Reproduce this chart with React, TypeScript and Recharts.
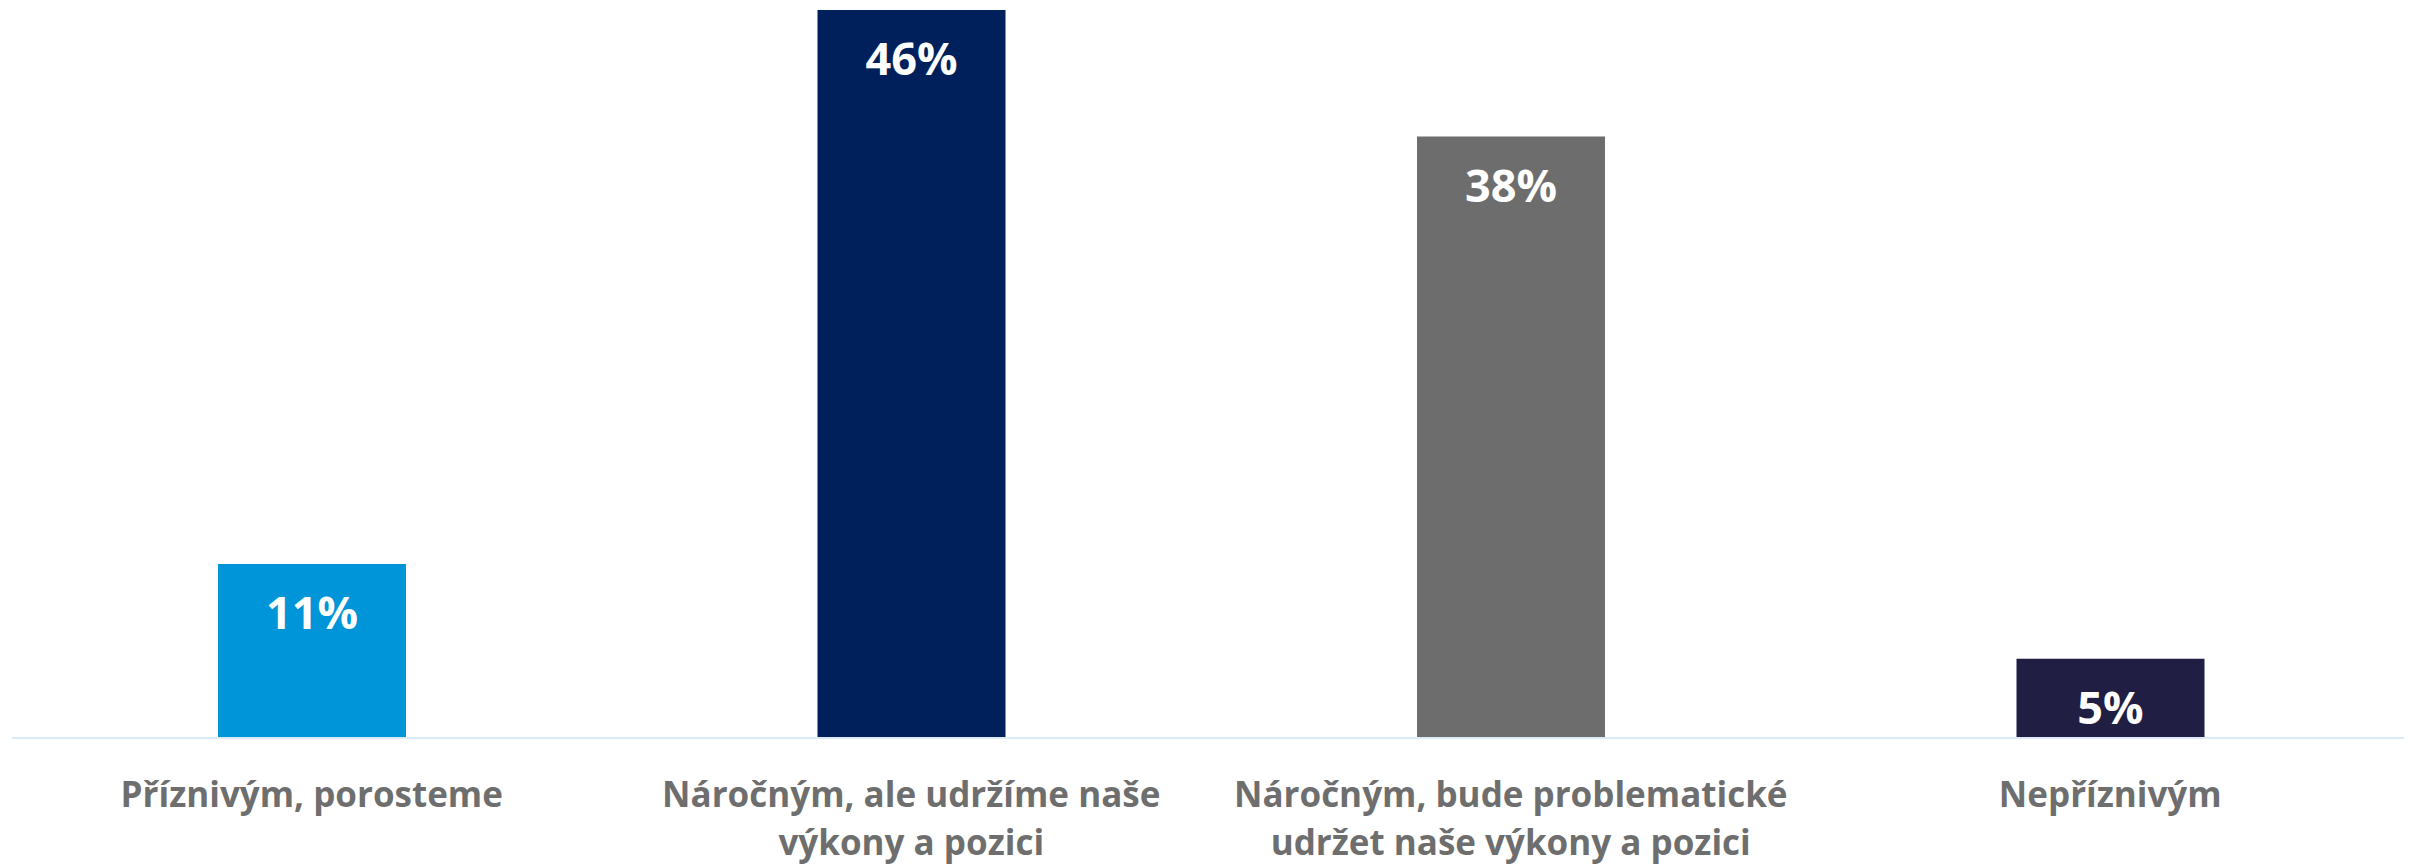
import React from 'react';
import { BarChart, Bar, XAxis, YAxis, Cell, LabelList } from 'recharts';

const categories = [
  'Příznivým, porosteme',
  'Náročným, ale udržíme naše\nvýkony a pozici',
  'Náročným, bude problematické\nudržet naše výkony a pozici',
  'Nepříznivým',
];
const values = [11, 46, 38, 5];
const barColors = ['#0094D8', '#00205C', '#6D6D6D', '#201F43'];

const data = categories.map((name, i) => ({ name, value: values[i] }));

const FONT = "'Open Sans', sans-serif";

function CategoryTick(props: any) {
  const { x, y, payload } = props;
  const lines = String(payload.value).split('\n');
  return (
    <text
      x={x}
      y={y}
      textAnchor="middle"
      fill="#6E6E6E"
      fontSize={35}
      fontWeight={700}
      fontFamily={FONT}
    >
      {lines.map((line, i) => (
        <tspan key={i} x={x} y={y + 69 + i * 48}>
          {line}
        </tspan>
      ))}
    </text>
  );
}

function ValueLabel(props: any) {
  const { x, y, width, value } = props;
  return (
    <text
      x={x + width / 2}
      y={y + 65}
      textAnchor="middle"
      fill="#FFFFFF"
      fontSize={45}
      fontWeight={700}
      fontFamily={FONT}
    >
      {value}%
    </text>
  );
}

export default function App() {
  return (
    <BarChart
      width={2404}
      height={860}
      data={data}
      margin={{ top: 2, right: 2, left: 4, bottom: 0 }}
    >
      <XAxis
        dataKey="name"
        height={130}
        axisLine={{ stroke: '#DCE9F6', strokeWidth: 2 }}
        tickLine={false}
        tickSize={0}
        tickMargin={0}
        interval={0}
        tick={<CategoryTick />}
      />
      <YAxis hide domain={[0, 46]} />
      <Bar dataKey="value" barSize={188} isAnimationActive={false}>
        {data.map((_, index) => (
          <Cell key={`cell-${index}`} fill={barColors[index]} />
        ))}
        <LabelList dataKey="value" content={<ValueLabel />} />
      </Bar>
    </BarChart>
  );
}
